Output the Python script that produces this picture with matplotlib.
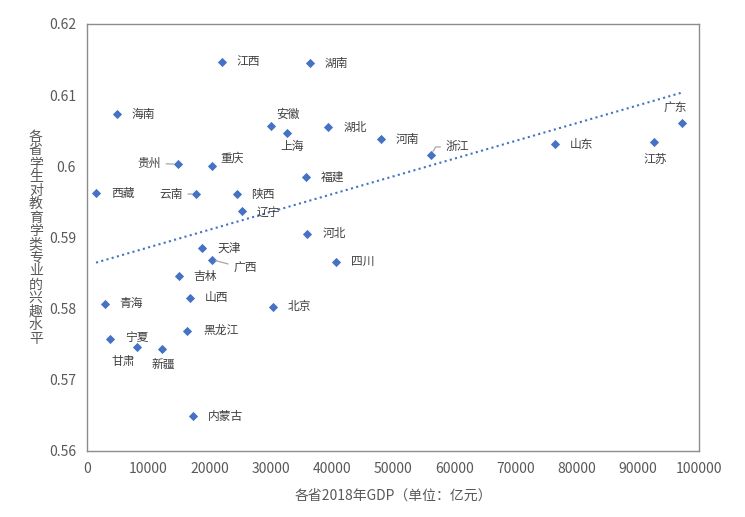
import numpy as np
import matplotlib.pyplot as plt

plt.rcParams['font.family'] = ['Noto Sans CJK SC', 'DejaVu Sans']

# 各省2018年GDP（亿元）与兴趣水平
provinces = ['江西', '湖南', '海南', '安徽', '上海', '湖北', '河南', '浙江', '山东', '江苏',
             '广东', '贵州', '重庆', '西藏', '云南', '陕西', '辽宁', '福建', '河北', '四川',
             '天津', '广西', '吉林', '山西', '青海', '北京', '黑龙江', '宁夏', '甘肃', '新疆',
             '内蒙古']
gdp = [21984, 36425, 4832, 30006, 32679, 39366, 48055, 56197, 76470, 92595,
       97278, 14806, 20363, 1477, 17881, 24438, 25315, 35804, 36010, 40678,
       18810, 20352, 15074, 16818, 2865, 30319, 16361, 3705, 8246, 12199,
       17289]
interest = [0.6147, 0.6145, 0.6073, 0.6056, 0.6047, 0.6055, 0.6038, 0.6016, 0.6031, 0.6034,
            0.6061, 0.6003, 0.6000, 0.5962, 0.5961, 0.5961, 0.5937, 0.5985, 0.5905, 0.5866,
            0.5885, 0.5869, 0.5846, 0.5815, 0.5807, 0.5803, 0.5769, 0.5758, 0.5746, 0.5744,
            0.5649]

x_ticks = [0, 10000, 20000, 30000, 40000, 50000, 60000, 70000, 80000, 90000, 100000]
y_ticks = [0.56, 0.57, 0.58, 0.59, 0.60, 0.61, 0.62]
y_tick_labels = ['0.56', '0.57', '0.58', '0.59', '0.6', '0.61', '0.62']

# label offsets in pixels (dx, dy, ha, leader)
offsets = {
    '江西': (15, 0, 'left', None), '湖南': (15, 0, 'left', None),
    '海南': (15, 0, 'left', None), '安徽': (6, 12, 'left', None),
    '上海': (5, -14, 'center', None), '湖北': (16, 0, 'left', None),
    '河南': (15, 0, 'left', None), '浙江': (15, 8, 'left', 'angle'),
    '山东': (15, 0, 'left', None), '江苏': (2, -17, 'center', None),
    '广东': (-7, 15, 'center', None), '贵州': (-17, 1, 'right', 'line'),
    '重庆': (9, 8, 'left', None), '西藏': (15, 0, 'left', None),
    '云南': (-14, 0, 'right', 'line'), '陕西': (15, 0, 'left', None),
    '辽宁': (15, -1, 'left', None), '福建': (15, 0, 'left', None),
    '河北': (15, 0, 'left', None), '四川': (15, 0, 'left', None),
    '天津': (15, 0, 'left', None), '广西': (22, -9, 'left', 'line'),
    '吉林': (14, -1, 'left', None), '山西': (15, 0, 'left', None),
    '青海': (15, 0, 'left', None), '北京': (15, 0, 'left', None),
    '黑龙江': (16, 0, 'left', None), '宁夏': (15, 1, 'left', None),
    '甘肃': (-14, -14, 'center', None), '新疆': (2, -16, 'center', None),
    '内蒙古': (15, 0, 'left', None),
}

fig = plt.figure(figsize=(7.45, 5.17), dpi=100)
ax = fig.add_axes([0.1168, 0.1277, 0.8215, 0.8259])

ax.scatter(gdp, interest, marker='D', s=22, color='#4472C4', zorder=3, linewidths=0)

# linear trend line
k, b = np.polyfit(gdp, interest, 1)
xs = np.array([min(gdp), max(gdp)])
ax.plot(xs, k * xs + b, linestyle=(0, (1, 1.6)), color='#4472C4', linewidth=1.5, zorder=2)

for name, xv, yv in zip(provinces, gdp, interest):
    dx, dy, ha, leader = offsets[name]
    props = None
    if leader == 'line':
        props = dict(arrowstyle='-', color='#A6A6A6', lw=0.9, shrinkA=2, shrinkB=3)
    elif leader == 'angle':
        props = dict(arrowstyle='-', color='#A6A6A6', lw=0.9, shrinkA=2, shrinkB=3,
                     connectionstyle='angle,angleA=0,angleB=60,rad=0')
    ax.annotate(name, xy=(xv, yv), xytext=(dx, dy), textcoords='offset pixels',
                ha=ha, va='center', fontsize=8.5, color='#404040', arrowprops=props)

ax.set_xlim(0, 100000)
ax.set_ylim(0.56, 0.62)
ax.set_xticks(x_ticks)
ax.set_xticklabels([str(v) for v in x_ticks])
ax.set_yticks(y_ticks)
ax.set_yticklabels(y_tick_labels)
ax.tick_params(length=0, labelsize=10, colors='#595959', pad=8)
for sp in ax.spines.values():
    sp.set_color('#8C8C8C')
    sp.set_linewidth(1)

ax.set_xlabel('各省2018年GDP（单位：亿元）', fontsize=10, color='#595959', labelpad=9)
ylabel = '各省学生对教育学类专业的兴趣水平'
fig.text(0.048, 0.54, '\n'.join(ylabel), ha='center', va='center', fontsize=10,
         color='#595959', linespacing=0.95)

fig.savefig('out.png', dpi=100)
